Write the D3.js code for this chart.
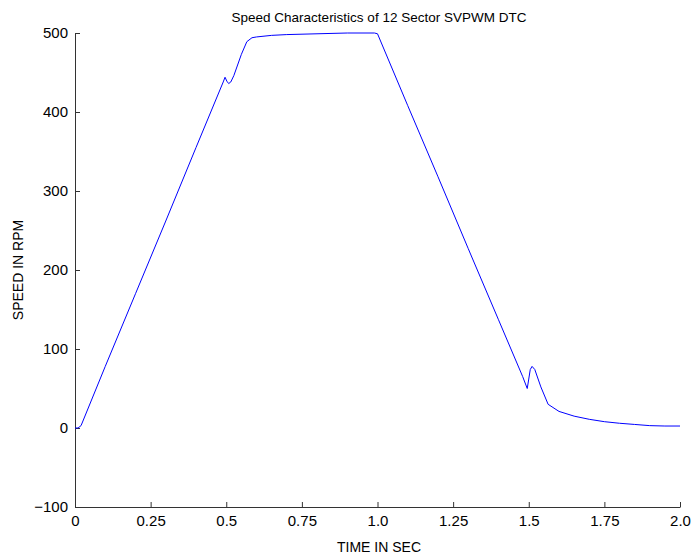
<!DOCTYPE html>
<html>
<head>
<meta charset="utf-8">
<title>Speed Characteristics</title>
<style>
  body { margin: 0; background: #fff; }
  text { font-family: "Liberation Sans", Arial, sans-serif; }
</style>
</head>
<body>
<svg width="696" height="558"></svg>
<script src="https://d3js.org/d3.v7.min.js"></script>
<script>
// values
const timeSec = [0, 0.01, 0.02, 0.1, 0.2, 0.3, 0.4, 0.49, 0.496, 0.502, 0.508, 0.515, 0.525,
  0.55, 0.568, 0.585, 0.6, 0.65, 0.7, 0.8, 0.9, 0.99, 1.0, 1.1, 1.2, 1.3, 1.4, 1.48,
  1.495, 1.5, 1.505, 1.511, 1.52, 1.54, 1.564, 1.6, 1.65, 1.7, 1.75, 1.8, 1.85, 1.9, 1.95, 2.0];
const speedRpm = [0, 0, 3, 78, 170, 262, 355, 438, 444, 439, 436, 438, 446,
  473, 489, 494, 495, 497, 498, 499, 500, 500, 499, 408, 318, 227, 137, 65,
  50, 62, 74, 78, 74, 52, 30, 21, 15, 11, 8, 6, 4.5, 3, 2.5, 2.5];
const xTicks = [0, 0.25, 0.5, 0.75, 1.0, 1.25, 1.5, 1.75, 2.0];
const xTickLabels = ["0", "0.25", "0.5", "0.75", "1.0", "1.25", "1.5", "1.75", "2.0"];
const yTicks = [-100, 0, 100, 200, 300, 400, 500];

const svg = d3.select("svg");
const margin = {left: 75, right: 16, top: 33, bottom: 51};
const W = 696, H = 558;

const x = d3.scaleLinear().domain([0, 2]).range([margin.left, W - margin.right]);
const y = d3.scaleLinear().domain([-100, 500]).range([H - margin.bottom, margin.top]);

const data = timeSec.map((t, i) => ({t: t, v: speedRpm[i]}));

const xAxis = svg.append("g")
  .attr("transform", `translate(0,${y(-100)})`)
  .call(d3.axisBottom(x).tickValues(xTicks)
    .tickFormat((d, i) => xTickLabels[i])
    .tickSizeInner(-5).tickSizeOuter(0).tickPadding(8));

const yAxis = svg.append("g")
  .attr("transform", `translate(${x(0)},0)`)
  .call(d3.axisLeft(y).tickValues(yTicks)
    .tickSizeInner(-5).tickSizeOuter(0).tickPadding(7));

[xAxis, yAxis].forEach(g => {
  g.select(".domain").attr("stroke", "#333");
  g.selectAll(".tick line").attr("stroke", "#333");
  g.selectAll(".tick text")
    .attr("fill", "#000")
    .style("font-size", "15px")
    .style("font-family", "Liberation Sans, Arial, sans-serif");
});

svg.append("path")
  .datum(data)
  .attr("fill", "none")
  .attr("stroke", "#0000ff")
  .attr("stroke-width", 1)
  .attr("d", d3.line().x(d => x(d.t)).y(d => y(d.v)));

svg.append("text")
  .attr("x", 379).attr("y", 22)
  .attr("text-anchor", "middle")
  .style("font-size", "13.5px")
  .text("Speed Characteristics of 12 Sector SVPWM DTC");

svg.append("text")
  .attr("x", 379).attr("y", 552)
  .attr("text-anchor", "middle")
  .style("font-size", "14px")
  .text("TIME IN SEC");

svg.append("text")
  .attr("transform", `translate(23,${(y(-100) + y(500)) / 2}) rotate(-90)`)
  .attr("text-anchor", "middle")
  .style("font-size", "14px")
  .text("SPEED IN RPM");
</script>
</body>
</html>
